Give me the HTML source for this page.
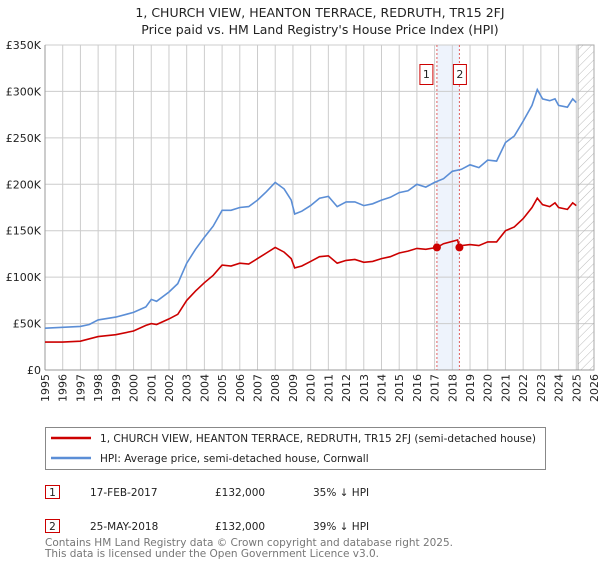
<!DOCTYPE html>
<html><head><meta charset="utf-8"><style>
body{margin:0;background:#fff;width:600px;height:560px;overflow:hidden;font-family:"DejaVu Sans","Liberation Sans",sans-serif;}
svg text{font-family:"DejaVu Sans","Liberation Sans",sans-serif;}
</style></head><body>
<svg id="c" width="600" height="560" xmlns="http://www.w3.org/2000/svg">
<defs><pattern id="hatch" width="6" height="6" patternUnits="userSpaceOnUse" patternTransform="rotate(45)"><line x1="0" y1="0" x2="0" y2="6" stroke="#bbb" stroke-width="1"/></pattern></defs>
<text x="320" y="17" text-anchor="middle" font-size="12.5" fill="#222">1, CHURCH VIEW, HEANTON TERRACE, REDRUTH, TR15 2FJ</text>
<text x="320" y="34" text-anchor="middle" font-size="12.5" fill="#222">Price paid vs. HM Land Registry's House Price Index (HPI)</text>
<g id="grid"></g><g id="marks"></g>
<g>
<rect x="45.5" y="427.5" width="500" height="42" fill="#fff" stroke="#888"/>
<line x1="51" y1="438" x2="91" y2="438" stroke="#cc0000" stroke-width="2.5"/>
<text x="100" y="442" font-size="10.5" fill="#222" textLength="436">1, CHURCH VIEW, HEANTON TERRACE, REDRUTH, TR15 2FJ (semi-detached house)</text>
<line x1="51" y1="458" x2="91" y2="458" stroke="#5b8ed6" stroke-width="2.5"/>
<text x="100" y="462" font-size="10.5" fill="#222">HPI: Average price, semi-detached house, Cornwall</text>
</g>
<g font-size="10.5" fill="#222">
<rect x="45.5" y="485.5" width="14" height="13" fill="none" stroke="#cc0000"/><text x="52.5" y="496" text-anchor="middle">1</text>
<text x="90" y="496">17-FEB-2017</text><text x="215" y="496">£132,000</text><text x="313" y="496">35% ↓ HPI</text>
<rect x="45.5" y="519.5" width="14" height="13" fill="none" stroke="#cc0000"/><text x="52.5" y="530" text-anchor="middle">2</text>
<text x="90" y="530">25-MAY-2018</text><text x="215" y="530">£132,000</text><text x="313" y="530">39% ↓ HPI</text>
</g>
<text x="45" y="546" font-size="10.5" fill="#777" textLength="408">Contains HM Land Registry data © Crown copyright and database right 2025.</text>
<text x="45" y="557" font-size="10.5" fill="#777" textLength="334">This data is licensed under the Open Government Licence v3.0.</text>
</svg>
<script>
const hpiYears=[1995,1996,1997,1997.5,1998,1999,2000,2000.7,2001,2001.3,2002,2002.5,2003,2003.5,2004,2004.5,2005,2005.5,2006,2006.5,2007,2007.5,2008,2008.5,2008.9,2009.1,2009.5,2010,2010.5,2011,2011.5,2012,2012.5,2013,2013.5,2014,2014.5,2015,2015.5,2016,2016.5,2017,2017.5,2018,2018.5,2019,2019.5,2020,2020.5,2021,2021.5,2022,2022.5,2022.8,2023.1,2023.5,2023.8,2024,2024.5,2024.8,2025.0];
const hpiValues=[45,46,47,49,54,57,62,68,76,74,84,93,115,130,143,155,172,172,175,176,183,192,202,195,183,168,171,177,185,187,176,181,181,177,179,183,186,191,193,200,197,202,206,214,216,221,218,226,225,245,252,268,285,302,292,290,292,285,283,292,288];
const propYears=[1995,1996,1997,1998,1999,2000,2000.7,2001,2001.3,2002,2002.5,2003,2003.5,2004,2004.5,2005,2005.5,2006,2006.5,2007,2007.5,2008,2008.5,2008.9,2009.1,2009.5,2010,2010.5,2011,2011.5,2012,2012.5,2013,2013.5,2014,2014.5,2015,2015.5,2016,2016.5,2017.13,2017.5,2018.3,2018.4,2018.5,2019,2019.5,2020,2020.5,2021,2021.5,2022,2022.5,2022.8,2023.1,2023.5,2023.8,2024,2024.5,2024.8,2025.0];
const propValues=[30,30,31,36,38,42,48,50,49,55,60,75,85,94,102,113,112,115,114,120,126,132,127,120,110,112,117,122,123,115,118,119,116,117,120,122,126,128,131,130,132,136,140,132,134,135,134,138,138,150,154,163,175,185,178,176,180,175,173,180,177];
const saleYears=[2017.13,2018.4];
const saleValues=[132,132];
const saleLabels=["1","2"];
const yTicks=[0,50,100,150,200,250,300,350];
const yTickLabels=["£0","£50K","£100K","£150K","£200K","£250K","£300K","£350K"];
const xTicks=[1995,1996,1997,1998,1999,2000,2001,2002,2003,2004,2005,2006,2007,2008,2009,2010,2011,2012,2013,2014,2015,2016,2017,2018,2019,2020,2021,2022,2023,2024,2025,2026];
const X0=45,X1=594,Y0=370,Y1=45;
const xs=v=>X0+(v-1995)/(2026-1995)*(X1-X0);
const ys=v=>Y0-v/350*(Y0-Y1);
const NS="http://www.w3.org/2000/svg";
function mk(tag,attrs,parent,txt){const e=document.createElementNS(NS,tag);for(const k in attrs)e.setAttribute(k,attrs[k]);if(txt!==undefined)e.textContent=txt;parent.appendChild(e);return e;}
const g=document.getElementById('grid'),m=document.getElementById('marks');
mk('rect',{x:X0,y:Y1,width:X1-X0,height:Y0-Y1,fill:'#fff'},g);
let band=mk('rect',{x:xs(saleYears[0]),y:Y1,width:xs(saleYears[1])-xs(saleYears[0]),height:Y0-Y1,fill:'#eef3fc'},g);


xTicks.forEach(t=>{
 mk('line',{x1:xs(t),y1:Y1,x2:xs(t),y2:Y0,stroke:'#ccc','stroke-width':1},g);
 const lb=mk('text',{x:0,y:0,transform:`translate(${xs(t)+4},${Y0+4}) rotate(-90)`,'text-anchor':'end','font-size':11,fill:'#222'},g,String(t));
 
 
});
yTicks.forEach((t,i)=>{
 mk('line',{x1:X0,y1:ys(t),x2:X1,y2:ys(t),stroke:'#ccc','stroke-width':1},g);
 const lb=mk('text',{x:X0-4,y:ys(t)+4,'text-anchor':'end','font-size':11,fill:'#222'},g,yTickLabels[i]);
 
 
});
let h=mk('rect',{x:xs(2025.1),y:Y1,width:X1-xs(2025.1),height:Y0-Y1,fill:'url(#hatch)',stroke:'#aaa','stroke-width':1},g);


mk('line',{x1:X0,y1:Y0,x2:X1,y2:Y0,stroke:'#999'},g);
mk('line',{x1:X0,y1:Y1,x2:X0,y2:Y0,stroke:'#999'},g);
saleYears.forEach((s,i)=>{
 const l=mk('line',{x1:xs(s),y1:Y1,x2:xs(s),y2:Y0,stroke:'#e06060','stroke-width':1,'stroke-dasharray':'2,2'},m);
 
 
 const bx=xs(s)-(i===0?10:-1)-1;
 const r=mk('rect',{x:bx-6,y:64.5,width:13,height:20,fill:'#fff',stroke:'#cc0000'},m);
 
 
 mk('text',{x:bx+0.5,y:78,'text-anchor':'middle','font-size':11,fill:'#222'},m,saleLabels[i]);
});
const line=(X,Y,c,n)=>{const p=mk('path',{d:X.map((v,i)=>(i?'L':'M')+xs(v).toFixed(1)+','+ys(Y[i]).toFixed(1)).join(''),fill:'none',stroke:c,'stroke-width':1.6},m);
 
 };
line(hpiYears,hpiValues,'#5b8ed6','hpi-line');
line(propYears,propValues,'#cc0000','property-price-line');
saleYears.forEach((s,i)=>{
 const c=mk('circle',{cx:xs(s),cy:ys(saleValues[i]),r:4,fill:'#cc0000'},m);
 
 
});
</script>
</body></html>
